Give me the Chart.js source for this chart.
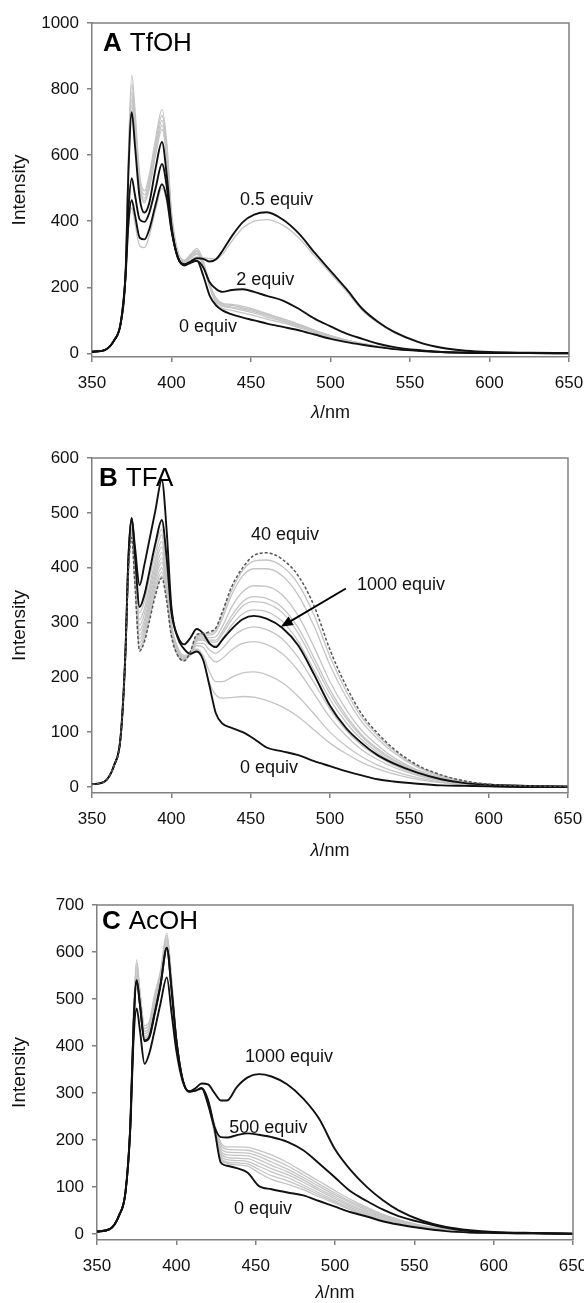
<!DOCTYPE html>
<html>
<head>
<meta charset="utf-8">
<script src="https://cdn.jsdelivr.net/npm/chart.js@4.4.1/dist/chart.umd.min.js"></script>
<style>
  html, body { margin: 0; padding: 0; background: #fff; overflow: hidden; width: 584px; height: 1303px; }
  canvas { position: absolute; left: 0; }
</style>
</head>
<body>
<canvas id="chartA" width="600" height="430" style="top:0px"></canvas>
<canvas id="chartB" width="600" height="430" style="top:430px"></canvas>
<canvas id="chartC" width="600" height="443" style="top:860px"></canvas>
<script>
// wavelength grid (nm) shared by all spectra
const wavelengths = [350, 358, 364, 368, 371, 373, 375, 377, 380, 383, 386, 390, 394, 397, 400, 404, 408, 412, 416,
                     420, 424, 428, 432, 438, 445, 452, 460, 470, 480, 490, 500, 510, 520, 530, 540, 555, 570, 585, 600, 625, 650];
const xTicks = [350, 400, 450, 500, 550, 600, 650];

// === A: TfOH ===
const tfohTicks = [0, 200, 400, 600, 800, 1000];
const tfoh0 = [5,10,40,90,230,560,730,630,470,426,455,560,640,540,385,290,268,276,280,
               235,175,145,130,118,108,100,90,80,70,57,44,34,26,19,13,8,4,2,1,1,0];
const tfoh05 = [5,10,40,90,225,400,464,420,350,345,375,450,512,470,372,290,270,278,288,
                286,278,285,310,355,398,420,427,405,363,305,250,195,135,95,65,35,17,8,4,2,1];
const tfoh2 = [5,10,40,90,230,440,530,480,405,398,425,500,573,505,378,290,266,274,280,
               260,215,195,186,192,194,186,174,160,135,105,82,60,44,29,19,10,4,2,1,1,0];
const tfohGray1 = [5,10,40,90,235,620,842,740,540,492,540,650,738,640,430,310,282,300,318,
                   280,210,165,150,145,138,130,118,104,88,70,54,40,30,21,15,8,4,2,1,1,0];
const tfohGray2 = [5,10,40,90,235,600,815,715,525,480,528,635,720,625,420,305,280,296,312,
                   276,205,158,143,138,130,122,110,97,82,66,51,38,28,20,14,8,4,2,1,1,0];
const tfohGray3 = [5,10,40,90,235,590,790,695,515,470,515,620,705,612,412,302,278,294,308,
                   272,210,168,152,148,142,133,120,105,88,70,54,40,30,21,15,8,4,2,1,1,0];
const tfohGray4 = [5,10,40,90,232,575,770,680,505,462,505,610,690,600,405,298,276,290,304,
                   268,200,152,136,130,122,114,104,92,78,63,48,36,27,19,13,7,4,2,1,1,0];
const tfohGray5 = [5,10,40,90,232,565,750,662,498,456,498,600,678,590,400,296,274,288,300,
                   265,205,160,146,140,134,126,115,100,84,67,52,39,29,20,14,8,4,2,1,1,0];
const tfohGray6 = [5,10,40,90,220,380,440,395,325,320,355,435,500,460,368,288,272,282,292,
                   290,287,285,300,340,380,400,405,388,350,295,242,188,130,92,63,34,16,8,4,2,1];

// === B: TFA ===
const tfaTicks = [0, 100, 200, 300, 400, 500, 600];
const tfa0 = [5,10,40,90,240,420,490,440,368,405,448,505,560,470,330,272,252,243,247,
              232,185,135,116,108,100,88,72,65,58,47,38,29,21,14,10,6,3,2,1,0,0];
const tfa1000 = [5,10,40,90,240,420,490,425,328,350,390,445,487,420,320,275,260,272,288,
                 280,262,255,268,288,306,312,307,290,258,205,148,108,80,58,43,26,14,7,4,2,1];
const tfa40 = [5,10,40,90,235,395,455,372,248,265,300,350,381,340,276,240,230,247,278,
               280,283,290,318,365,400,422,427,415,385,330,250,185,133,98,70,40,22,11,5,2,1];
const tfaGray1 = [5,10,40,90,240,415,478,420,330,350,390,440,470,400,300,255,240,243,250,
                  232,190,168,162,163,165,164,158,146,128,104,80,61,45,33,24,14,8,4,2,1,0];
const tfaGray2 = [5,10,40,90,240,412,475,412,318,338,378,428,460,392,296,252,238,241,252,
                  240,210,192,192,200,208,210,205,190,165,133,100,75,55,40,29,17,9,5,2,1,0];
const tfaGray3 = [5,10,40,90,238,410,472,405,305,325,362,415,448,385,292,250,236,240,258,
                  255,238,228,234,250,262,265,260,243,212,170,127,94,68,50,36,21,11,6,3,1,0];
const tfaGray4 = [5,10,40,90,238,408,470,400,295,315,352,406,438,378,290,248,235,240,262,
                  262,250,244,252,272,287,292,287,270,236,190,142,104,76,56,40,23,12,6,3,1,0];
const tfaGray5 = [5,10,40,90,238,406,468,395,285,304,342,396,428,372,288,246,234,241,266,
                  268,260,258,270,295,316,323,320,302,265,213,160,118,86,63,45,26,14,7,3,1,0];
const tfaGray6 = [5,10,40,90,236,404,465,390,277,296,334,388,418,366,286,245,233,242,268,
                  270,265,264,278,305,330,338,335,318,280,226,170,126,92,67,48,28,15,7,3,1,0];
const tfaGray7 = [5,10,40,90,236,402,463,386,270,289,327,380,410,362,284,244,232,243,270,
                  272,268,268,283,312,338,347,344,327,290,235,177,131,95,70,50,29,15,8,4,1,0];
const tfaGray8 = [5,10,40,90,236,400,460,382,263,282,320,372,400,356,282,243,232,244,272,
                  275,272,274,292,328,356,367,366,350,312,255,192,142,103,76,54,31,17,8,4,1,0];
const tfaGray9 = [5,10,40,90,235,398,458,378,256,275,312,364,392,350,280,242,231,245,274,
                  278,277,283,306,350,385,398,398,385,350,293,222,165,119,88,63,36,19,9,4,2,1];
const tfaGray10 = [5,10,40,90,235,396,456,374,250,268,305,356,385,345,278,240,230,246,276,
                   280,280,287,313,358,395,412,414,402,370,313,238,176,127,94,67,38,21,10,5,2,1];

// === C: AcOH ===
const acohTicks = [0, 100, 200, 300, 400, 500, 600, 700];
const acoh0 = [5,10,40,90,230,440,540,490,412,420,465,530,609,520,413,328,303,305,310,
               285,225,152,145,140,130,102,95,88,82,70,58,46,37,27,20,12,6,3,2,1,0];
const acoh500 = [5,10,40,90,230,440,540,490,410,418,462,528,608,520,413,328,303,305,310,
                 275,228,206,205,210,214,211,206,196,178,150,120,90,70,52,38,24,13,6,3,1,0];
const acoh1000 = [5,10,40,90,225,410,480,435,362,385,428,490,546,470,390,325,303,310,320,
                  318,300,284,284,312,333,340,335,318,288,245,180,135,100,72,50,28,15,8,4,2,1];
const acohGray1 = [5,10,40,90,235,470,583,520,443,452,505,560,640,545,420,330,304,304,310,
                   282,235,195,185,185,184,178,168,152,132,112,92,73,57,42,31,18,10,5,2,1,0];
const acohGray2 = [5,10,40,90,235,465,575,515,437,446,498,555,635,540,418,330,304,304,309,
                   282,232,190,180,179,178,171,160,145,126,106,87,69,54,40,29,17,9,5,2,1,0];
const acohGray3 = [5,10,40,90,234,460,568,508,431,440,490,550,630,536,417,329,303,304,309,
                   281,228,184,174,173,172,165,153,138,120,101,83,66,51,38,28,16,9,4,2,1,0];
const acohGray4 = [5,10,40,90,234,455,562,503,426,435,484,545,626,533,416,329,303,304,308,
                   280,225,178,168,167,166,158,146,132,115,96,79,62,48,36,26,15,8,4,2,1,0];
const acohGray5 = [5,10,40,90,233,450,556,498,421,430,478,540,622,530,415,328,303,304,308,
                   280,222,173,163,161,160,151,139,126,110,92,75,59,46,34,25,14,8,4,2,1,0];
const acohGray6 = [5,10,40,90,233,447,550,494,417,426,474,536,618,527,415,328,303,304,308,
                   279,219,168,158,156,154,144,132,120,104,87,71,56,43,32,23,13,7,4,2,1,0];
const acohGray7 = [5,10,40,90,232,444,546,491,414,423,470,532,614,524,414,328,303,304,308,
                   279,216,163,153,151,149,137,124,113,99,83,68,53,41,30,22,13,7,3,2,1,0];
const acohGray8 = [5,10,40,90,232,442,543,489,412,421,467,530,612,522,414,328,303,304,308,
                   278,214,160,150,147,144,130,116,106,94,79,65,51,39,29,21,12,6,3,2,1,0];

const FONT = '"Liberation Sans", Arial, Helvetica, sans-serif';
const BLACK = '#111111';
const GRAY = '#c4c4c4';
const AXIS = '#808080';
Chart.defaults.font.family = FONT;

function spectrum(values, color, width, dash) {
    return {
        data: values.map((v, i) => ({ x: wavelengths[i], y: v })),
        borderColor: color,
        borderWidth: width,
        borderDash: dash || [],
        pointRadius: 0,
        fill: false,
        cubicInterpolationMode: 'monotone',
        order: color === GRAY ? 2 : 1
    };
}

// рамка, подпись панели, подпись оси x, подписи кривых и стрелка
function makeDecor(spec) {
    return {
        id: 'decor',
        afterDatasetsDraw(chart) {
            const { ctx, chartArea: a, scales: { x, y } } = chart;
            ctx.save();
            ctx.strokeStyle = AXIS;
            ctx.lineWidth = 1.5;
            ctx.beginPath();
            ctx.moveTo(a.left, a.top);
            ctx.lineTo(a.right, a.top);
            ctx.lineTo(a.right, a.bottom);
            ctx.stroke();

            ctx.fillStyle = '#000';
            ctx.textAlign = 'left';
            ctx.textBaseline = 'alphabetic';
            ctx.font = 'bold 26px ' + FONT;
            ctx.fillText(spec.letter, spec.lx, spec.ly);
            const w = ctx.measureText(spec.letter).width;
            ctx.font = '26px ' + FONT;
            ctx.fillText(spec.name, spec.lx + w + 8, spec.ly);

            // λ/nm с курсивной лямбдой
            ctx.fillStyle = '#111';
            ctx.textBaseline = 'middle';
            ctx.font = 'italic 18px ' + FONT;
            const wl = ctx.measureText('λ').width;
            ctx.font = '18px ' + FONT;
            const wn = ctx.measureText('/nm').width;
            const cx = (a.left + a.right) / 2 - (wl + wn) / 2;
            ctx.font = 'italic 18px ' + FONT;
            ctx.fillText('λ', cx, spec.titleY);
            ctx.font = '18px ' + FONT;
            ctx.fillText('/nm', cx + wl, spec.titleY);

            ctx.textAlign = 'center';
            spec.notes.forEach(n => {
                ctx.fillText(n.text, x.getPixelForValue(n.x), y.getPixelForValue(n.y));
            });

            if (spec.arrow) {
                const [x0, y0, x1, y1] = spec.arrow;
                const px0 = x.getPixelForValue(x0), py0 = y.getPixelForValue(y0);
                const px1 = x.getPixelForValue(x1), py1 = y.getPixelForValue(y1);
                const ang = Math.atan2(py1 - py0, px1 - px0);
                ctx.strokeStyle = '#000';
                ctx.lineWidth = 2;
                ctx.beginPath();
                ctx.moveTo(px0, py0);
                ctx.lineTo(px1 - 8 * Math.cos(ang), py1 - 8 * Math.sin(ang));
                ctx.stroke();
                ctx.beginPath();
                ctx.moveTo(px1, py1);
                ctx.lineTo(px1 - 12 * Math.cos(ang) + 5 * Math.sin(ang), py1 - 12 * Math.sin(ang) - 5 * Math.cos(ang));
                ctx.lineTo(px1 - 12 * Math.cos(ang) - 5 * Math.sin(ang), py1 - 12 * Math.sin(ang) + 5 * Math.cos(ang));
                ctx.closePath();
                ctx.fillStyle = '#000';
                ctx.fill();
            }
            ctx.restore();
        }
    };
}

function makeChart(id, cfg) {
    return new Chart(document.getElementById(id), {
        type: 'line',
        data: { datasets: cfg.datasets },
        options: {
            responsive: false,
            animation: false,
            events: [],
            layout: { padding: cfg.padding },
            plugins: { legend: { display: false }, tooltip: { enabled: false } },
            scales: {
                x: {
                    type: 'linear',
                    min: 350,
                    max: 650,
                    afterBuildTicks: s => { s.ticks = xTicks.map(v => ({ value: v })); },
                    afterFit: s => { s.height = cfg.xHeight; },
                    grid: { drawOnChartArea: false, drawTicks: true, tickLength: 5, color: AXIS, lineWidth: 1.5 },
                    border: { color: AXIS, width: 1.5 },
                    ticks: { font: { size: 17 }, color: '#111', padding: 11, maxRotation: 0, autoSkip: false,
                             callback: v => String(v) }
                },
                y: {
                    type: 'linear',
                    min: cfg.yMin,
                    max: cfg.yMax,
                    afterBuildTicks: s => { s.ticks = cfg.yTicks.map(v => ({ value: v })); },
                    afterFit: s => { s.width = cfg.yWidth; },
                    grid: { drawOnChartArea: false, drawTicks: true, tickLength: 5, color: AXIS, lineWidth: 1.5 },
                    border: { color: AXIS, width: 1.5 },
                    ticks: { font: { size: 17 }, color: '#111', padding: 8, callback: v => String(v) },
                    title: { display: true, text: 'Intensity', font: { size: 19 }, color: '#111', padding: { top: 8, bottom: 0 } }
                }
            }
        },
        plugins: [makeDecor(cfg.decor)]
    });
}

makeChart('chartA', {
    datasets: [
        spectrum(tfohGray1, GRAY, 1.3), spectrum(tfohGray2, GRAY, 1.3), spectrum(tfohGray3, GRAY, 1.3),
        spectrum(tfohGray4, GRAY, 1.3), spectrum(tfohGray5, GRAY, 1.3), spectrum(tfohGray6, GRAY, 1.3),
        spectrum(tfoh0, BLACK, 1.9), spectrum(tfoh2, BLACK, 1.9), spectrum(tfoh05, BLACK, 1.9)
    ],
    padding: { top: 23, right: 31, left: 0, bottom: 0 },
    xHeight: 73, yWidth: 92, yMin: -11, yMax: 1000, yTicks: tfohTicks,
    decor: {
        letter: 'A', name: 'TfOH', lx: 103, ly: 51, titleY: 413,
        notes: [
            { text: '0.5 equiv', x: 466, y: 464 },
            { text: '2 equiv', x: 459, y: 221 },
            { text: '0 equiv', x: 423, y: 79 }
        ]
    }
});

makeChart('chartB', {
    datasets: [
        spectrum(tfaGray1, GRAY, 1.3), spectrum(tfaGray2, GRAY, 1.3), spectrum(tfaGray3, GRAY, 1.3),
        spectrum(tfaGray4, GRAY, 1.3), spectrum(tfaGray5, GRAY, 1.3), spectrum(tfaGray6, GRAY, 1.3),
        spectrum(tfaGray7, GRAY, 1.3), spectrum(tfaGray8, GRAY, 1.3), spectrum(tfaGray9, GRAY, 1.3),
        spectrum(tfaGray10, GRAY, 1.3),
        spectrum(tfa40, '#555555', 1.5, [3, 2]),
        spectrum(tfa0, BLACK, 1.9), spectrum(tfa1000, BLACK, 1.9)
    ],
    padding: { top: 28, right: 32, left: 0, bottom: 0 },
    xHeight: 67, yWidth: 92, yMin: -11, yMax: 600, yTicks: tfaTicks,
    decor: {
        letter: 'B', name: 'TFA', lx: 99, ly: 56, titleY: 421,
        notes: [
            { text: '40 equiv', x: 471.6, y: 460 },
            { text: '1000 equiv', x: 544.7, y: 368 },
            { text: '0 equiv', x: 461.5, y: 35 }
        ],
        arrow: [510, 362, 469, 292]
    }
});

makeChart('chartC', {
    datasets: [
        spectrum(acohGray1, GRAY, 1.3), spectrum(acohGray2, GRAY, 1.3), spectrum(acohGray3, GRAY, 1.3),
        spectrum(acohGray4, GRAY, 1.3), spectrum(acohGray5, GRAY, 1.3), spectrum(acohGray6, GRAY, 1.3),
        spectrum(acohGray7, GRAY, 1.3), spectrum(acohGray8, GRAY, 1.3),
        spectrum(acoh0, BLACK, 1.9), spectrum(acoh500, BLACK, 1.9), spectrum(acoh1000, BLACK, 1.9)
    ],
    padding: { top: 45, right: 27, left: 0, bottom: 0 },
    xHeight: 63, yWidth: 97, yMin: -13, yMax: 700, yTicks: acohTicks,
    decor: {
        letter: 'C', name: 'AcOH', lx: 102, ly: 69, titleY: 433,
        notes: [
            { text: '1000 equiv', x: 471, y: 377 },
            { text: '500 equiv', x: 458, y: 226 },
            { text: '0 equiv', x: 454.6, y: 53 }
        ]
    }
});
</script>
</body>
</html>
